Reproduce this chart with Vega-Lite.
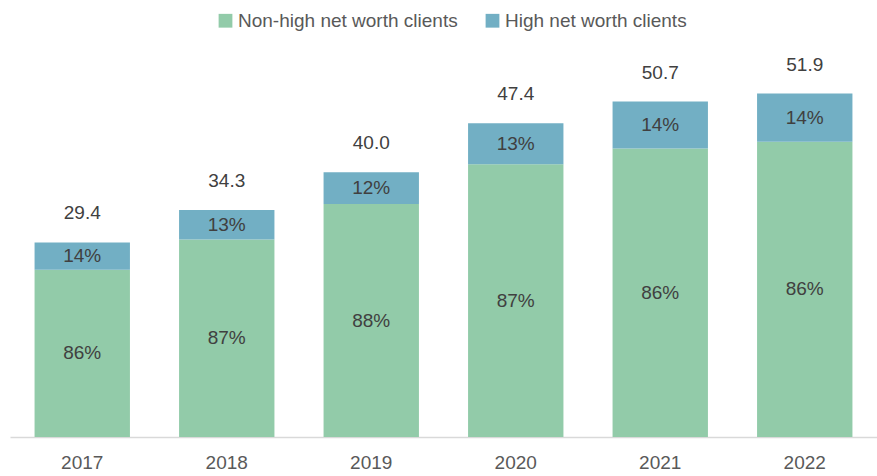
{
  "$schema": "https://vega.github.io/schema/vega-lite/v6.json",
  "width": 867,
  "height": 397,
  "autosize": {"type": "none"},
  "padding": {"left": 10, "top": 40, "right": 0, "bottom": 39},
  "background": "white",
  "config": {
    "view": {"stroke": null},
    "font": "Liberation Sans"
  },
  "data": {
    "values": [
      {"year": "2017", "segment": "Non-high net worth clients", "value": 25.28, "pct": "86%"},
      {"year": "2017", "segment": "High net worth clients", "value": 4.12, "pct": "14%"},
      {"year": "2018", "segment": "Non-high net worth clients", "value": 29.84, "pct": "87%"},
      {"year": "2018", "segment": "High net worth clients", "value": 4.46, "pct": "13%"},
      {"year": "2019", "segment": "Non-high net worth clients", "value": 35.2, "pct": "88%"},
      {"year": "2019", "segment": "High net worth clients", "value": 4.8, "pct": "12%"},
      {"year": "2020", "segment": "Non-high net worth clients", "value": 41.24, "pct": "87%"},
      {"year": "2020", "segment": "High net worth clients", "value": 6.16, "pct": "13%"},
      {"year": "2021", "segment": "Non-high net worth clients", "value": 43.6, "pct": "86%"},
      {"year": "2021", "segment": "High net worth clients", "value": 7.1, "pct": "14%"},
      {"year": "2022", "segment": "Non-high net worth clients", "value": 44.63, "pct": "86%"},
      {"year": "2022", "segment": "High net worth clients", "value": 7.27, "pct": "14%"}
    ]
  },
  "encoding": {
    "x": {
      "field": "year",
      "type": "nominal",
      "scale": {"paddingInner": 0.34, "paddingOuter": 0.17},
      "axis": {
        "title": null,
        "labelAngle": 0,
        "labelFontSize": 19,
        "labelColor": "#595959",
        "labelPadding": 16,
        "ticks": false,
        "domainColor": "#d9d9d9",
        "domainWidth": 1.5
      }
    }
  },
  "layer": [
    {
      "transform": [
        {"stack": "value", "groupby": ["year"], "sort": [{"field": "segment", "order": "descending"}], "as": ["v0", "v1"]},
        {"calculate": "(datum.v0 + datum.v1) / 2", "as": "vmid"}
      ],
      "layer": [
        {
          "mark": {"type": "bar"},
          "encoding": {
            "y": {"field": "v0", "type": "quantitative", "scale": {"domain": [0, 60]}, "axis": null},
            "y2": {"field": "v1"},
            "color": {
              "field": "segment",
              "type": "nominal",
              "scale": {
                "domain": ["Non-high net worth clients", "High net worth clients"],
                "range": ["#92cba9", "#72afc4"]
              },
              "legend": {
                "title": null,
                "orient": "none",
                "direction": "horizontal",
                "legendX": 206,
                "legendY": -29,
                "symbolType": "square",
                "symbolSize": 190,
                "symbolStrokeWidth": 0,
                "labelFontSize": 19,
                "labelLimit": 400,
                "labelColor": "#595959",
                "labelOffset": 3,
                "columnPadding": 25
              }
            }
          }
        },
        {
          "mark": {"type": "text", "fontSize": 19, "color": "#404040", "baseline": "middle"},
          "encoding": {
            "y": {"field": "vmid", "type": "quantitative"},
            "text": {"field": "pct"}
          }
        }
      ]
    },
    {
      "mark": {"type": "text", "fontSize": 19, "color": "#404040", "baseline": "middle", "dy": -29},
      "encoding": {
        "y": {"aggregate": "sum", "field": "value", "type": "quantitative"},
        "text": {"aggregate": "sum", "field": "value", "type": "quantitative", "format": ".1f"}
      }
    }
  ]
}
